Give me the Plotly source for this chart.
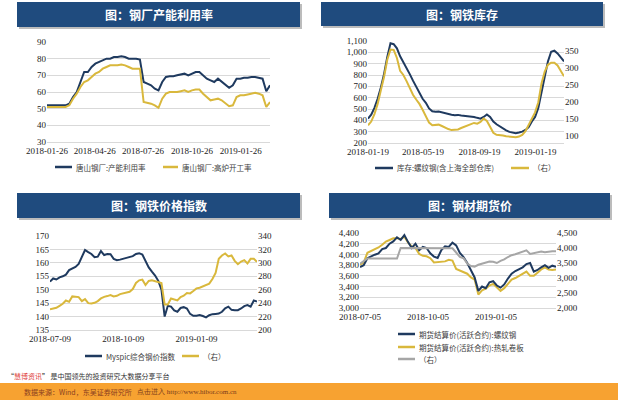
import pandas as pd
import plotly.graph_objects as go

W, H = 618, 400

# ---- panel 1: 钢厂产能利用率 (weekly) ----
p1_dates = pd.date_range("2018-01-26", periods=61, freq="7D")
p1_util = [52, 52, 52, 52, 52, 52, 53, 57, 60, 66, 72, 72, 75, 77, 78, 79, 80, 80, 81, 81,
           81.5, 81, 80, 80, 80, 79.5, 66, 65, 64, 62, 61, 66, 69, 69.5, 69.5, 70, 70.5, 71, 70, 71,
           72, 72, 70, 68, 67, 66, 68, 66, 64, 62.5, 64, 68, 68, 68.5, 68.5, 69, 69, 68.5, 68, 60.5, 64]
p1_blast = [51, 51, 51, 51, 51, 51, 52, 56, 59, 63, 66, 67, 69, 71, 72, 74, 75, 76, 76, 76,
            76.5, 76, 75, 74, 74, 74, 54, 53.5, 53, 52, 50.5, 56, 59, 60, 60, 60, 60.5, 61, 60, 61,
            61.5, 61.5, 59, 57, 55, 55.5, 56, 55, 53, 51.5, 52, 57, 58, 58, 58.5, 59, 59.5, 59, 58, 51, 54]
p1_ticks = ["2018-01-26", "2018-04-26", "2018-07-26", "2018-10-26", "2019-01-26"]

# ---- panel 2: 钢铁库存 (weekly) ----
p2_dates = pd.date_range("2018-01-19", periods=62, freq="7D")
p2_rebar = [415, 450, 510, 590, 690, 810, 960, 1080, 1072, 1035, 965, 915, 870, 808, 750, 695,
            645, 590, 555, 505, 480, 475, 478, 470, 462, 458, 450, 445, 448, 442, 440, 437, 432,
            430, 422, 415, 430, 452, 430, 390, 365, 345, 328, 312, 298, 290, 287, 292, 300, 315,
            340, 390, 430, 510, 650, 780, 920, 1005, 1015, 990, 950, 920]
p2_right = [132, 143, 165, 195, 235, 275, 325, 355, 354, 330, 292, 280, 262, 240, 222, 208,
            195, 178, 158, 140, 132, 133, 134, 130, 125, 121, 118, 118, 120, 124, 128, 133, 136,
            139, 137, 142, 152, 145, 128, 110, 104, 104, 102, 100, 99, 98, 97, 99, 104, 115,
            132, 150, 170, 200, 255, 290, 310, 316, 316, 308, 290, 276]
p2_ticks = ["2018-01-19", "2018-05-19", "2018-09-19", "2019-01-19"]

# ---- panel 3: 钢铁价格指数 ----
p3_dates = pd.date_range("2018-07-09", periods=66, freq="4D")
p3_myspic = [153, 154.2, 153.8, 154.6, 155, 155.6, 157.3, 157.8, 158.5, 159.6,
             162.5, 164.8, 164, 163.3, 162.1, 162.3, 164.4, 162.9, 163.3, 163.2,
             161.5, 161, 161.2, 161.5, 162, 162.3, 162.5, 163.3, 163.6, 163.1,
             160.5, 158.3, 156.7, 155.3, 153.3, 150, 140, 144, 143.7, 142.3,
             141.8, 143.2, 143.5, 143, 141, 140.3, 140.3, 140.6, 140.2, 139.7,
             140.5, 140.9, 141, 141.1, 141.8, 143.1, 143.7, 142.5, 142.4, 142.4,
             143, 143.9, 144.3, 143.7, 146, 145.6]
p3_right = [231, 232, 233, 236, 239, 244, 242, 250, 250, 249,
            243, 246, 240, 239.5, 240.5, 243, 247, 249.4, 250.5, 252,
            250, 251, 253.5, 254.5, 256, 257, 261, 270, 274, 275,
            267, 273, 274, 272.5, 271.5, 270, 238, 238, 247, 246,
            244, 249, 251, 255, 254.5, 258, 262, 263, 265, 268,
            269, 276, 285, 306, 311, 314, 309.5, 311, 303, 298,
            302, 304, 299, 306, 306, 301.5]
p3_ticks = ["2018-07-09", "2018-10-09", "2019-01-09"]

# ---- panel 4: 钢材期货价 ----
p4_dates = pd.date_range("2018-07-05", periods=54, freq="5D")
p4_rebar = [3765, 3800, 3930, 3970, 3995, 4020, 4100, 4120, 4200, 4244,
            4320, 4270, 4360, 4230, 4120, 4200, 4080, 4140, 4120, 4020,
            3960, 3935, 4080, 4150, 4140, 4220, 4170, 4030, 3950, 3840,
            3700, 3570, 3320, 3400, 3370, 3480, 3500, 3420, 3380, 3440,
            3550, 3640, 3690, 3720, 3760, 3820, 3840, 3680, 3710, 3760,
            3800, 3750, 3790, 3770]
p4_hrc = [3809, 3850, 4030, 4060, 4085, 4130, 4180, 4240, 4270, 4300,
          4300, 4290, 4330, 4220, 4150, 4120, 4010, 3975, 3965, 3930,
          3850, 3860, 3870, 3870, 3900, 3885, 3730, 3700, 3670, 3640,
          3570, 3530, 3250, 3330, 3360, 3420, 3450, 3380, 3320, 3370,
          3460, 3530, 3560, 3600, 3640, 3680, 3600, 3600, 3660, 3720,
          3760, 3720, 3710, 3720]
p4_right = [3480, 3560, 3650, 3650, 3650, 3650, 3650, 3650, 3650, 3650,
            3650, 4000, 4000, 4000, 4000, 4000, 4000, 4000, 4000, 4000,
            4000, 4000, 4000, 4000, 4000, 3990, 3850, 3700, 3660, 3480,
            3400, 3380, 3440, 3480, 3520, 3550, 3540, 3500, 3570, 3620,
            3700, 3760, 3790, 3830, 3870, 3920, 3800, 3820, 3850, 3880,
            3860, 3880, 3890, 3890]
p4_ticks = ["2018-07-05", "2018-10-05", "2019-01-05"]

NAVY = "#1f3a5f"
GOLD = "#d9b83c"
GREY = "#a6a6a6"
BAR = "#1f4b7e"


def px(x):
    return x / W


def py(y):
    return 1 - y / H


tickfont = dict(family="Liberation Serif", size=9, color="#222222")
cjk = "Noto Sans CJK SC"

fig = go.Figure()

fig.add_trace(go.Scatter(x=p1_dates, y=p1_util, xaxis="x", yaxis="y", mode="lines",
                         line=dict(color=NAVY, width=2)))
fig.add_trace(go.Scatter(x=p1_dates, y=p1_blast, xaxis="x", yaxis="y", mode="lines",
                         line=dict(color=GOLD, width=2)))

fig.add_trace(go.Scatter(x=p2_dates, y=p2_right, xaxis="x2", yaxis="y3", mode="lines",
                         line=dict(color=GOLD, width=2)))
fig.add_trace(go.Scatter(x=p2_dates, y=p2_rebar, xaxis="x2", yaxis="y2", mode="lines",
                         line=dict(color=NAVY, width=2)))

fig.add_trace(go.Scatter(x=p3_dates, y=p3_right, xaxis="x3", yaxis="y5", mode="lines",
                         line=dict(color=GOLD, width=2)))
fig.add_trace(go.Scatter(x=p3_dates, y=p3_myspic, xaxis="x3", yaxis="y4", mode="lines",
                         line=dict(color=NAVY, width=2)))

fig.add_trace(go.Scatter(x=p4_dates, y=p4_right, xaxis="x4", yaxis="y7", mode="lines",
                         line=dict(color=GREY, width=2)))
fig.add_trace(go.Scatter(x=p4_dates, y=p4_hrc, xaxis="x4", yaxis="y6", mode="lines",
                         line=dict(color=GOLD, width=2)))
fig.add_trace(go.Scatter(x=p4_dates, y=p4_rebar, xaxis="x4", yaxis="y6", mode="lines",
                         line=dict(color=NAVY, width=2)))


def xax(x0, x1, anchor, dates, ticks):
    return dict(domain=[px(x0), px(x1)], anchor=anchor, type="date",
                range=[dates[0], dates[-1]], tickvals=ticks, ticktext=ticks,
                tickfont=tickfont, showgrid=False, zeroline=False, automargin=False,
                showline=True, linecolor="#d9d9d9", ticks="")


def yax(y0, y1, anchor, rng, dtick, fmt=""):
    return dict(domain=[py(y1), py(y0)], anchor=anchor, range=rng, dtick=dtick,
                tickformat=fmt, tickfont=tickfont, showgrid=True, gridcolor="#d9d9d9",
                gridwidth=1, zeroline=False, ticks="", automargin=False)


def yright(over, anchor, rng, dtick, fmt=""):
    return dict(overlaying=over, side="right", anchor=anchor, range=rng, dtick=dtick,
                tickformat=fmt, tickfont=tickfont, showgrid=False, zeroline=False, ticks="",
                automargin=False)


layout = dict(
    width=W, height=H, autosize=False, margin=dict(l=0, r=0, t=0, b=0, pad=0),
    paper_bgcolor="white", plot_bgcolor="rgba(0,0,0,0)", showlegend=False,
    xaxis=xax(47, 270, "y", p1_dates, p1_ticks),
    yaxis=yax(42, 142, "x", [30, 90], 10),
    xaxis2=xax(368, 564, "y2", p2_dates, p2_ticks),
    yaxis2=yax(41, 143, "x2", [200, 1100], 100, ",d"),
    yaxis3=yright("y2", "x2", [80, 380], 50),
    xaxis3=xax(50, 257, "y4", p3_dates, p3_ticks),
    yaxis4=yax(236, 330, "x3", [135, 170], 5),
    yaxis5=yright("y4", "x3", [200, 340], 20),
    xaxis4=xax(360, 556, "y6", p4_dates, p4_ticks),
    yaxis6=yax(233, 308, "x4", [3000, 4400], 200, ",d"),
    yaxis7=yright("y6", "x4", [2000, 4500], 500, ",d"),
)
fig.update_layout(**layout)

shapes = []
annotations = []


def note(x, y, text, font, xanchor="left"):
    annotations.append(dict(x=px(x), y=py(y), xref="paper", yref="paper", text=text,
                            showarrow=False, xanchor=xanchor, yanchor="middle", font=font))


# title bars
titles = [((17, 2, 300, 27), "图：钢厂产能利用率"),
          ((321, 2, 603, 26), "图：钢铁库存"),
          ((17, 193, 300, 218), "图：钢铁价格指数"),
          ((329, 193, 610, 218), "图：钢材期货价")]
for (x0, y0, x1, y1), t in titles:
    shapes.append(dict(type="rect", xref="paper", yref="paper", x0=px(x0 + 2), x1=px(x1 + 2),
                       y0=py(y1 + 2), y1=py(y0 + 2), fillcolor="#bcbcbc", line_width=0))
    shapes.append(dict(type="rect", xref="paper", yref="paper", x0=px(x0), x1=px(x1),
                       y0=py(y1), y1=py(y0), fillcolor=BAR, line_width=0))
    note((x0 + x1) / 2, (y0 + y1) / 2, "<b>" + t + "</b>",
         dict(family=cjk, size=12, color="white"), xanchor="center")

# hand-placed legends
legend_items = [
    (55, 72, 167, NAVY, "唐山钢厂:产能利用率"),
    (163, 178, 167, GOLD, "唐山钢厂:高炉开工率"),
    (375, 393, 168, NAVY, "库存:螺纹钢(含上海全部仓库)"),
    (511, 529, 168, GOLD, "（右）"),
    (85, 102, 356, NAVY, "Myspic综合钢价指数"),
    (182, 199, 356, GOLD, "（右）"),
    (398, 415, 334, NAVY, "期货结算价(活跃合约):螺纹钢"),
    (398, 415, 347, GOLD, "期货结算价(活跃合约):热轧卷板"),
    (398, 415, 359, GREY, "（右）"),
]
for x0, x1, y, c, t in legend_items:
    shapes.append(dict(type="line", xref="paper", yref="paper", x0=px(x0), x1=px(x1),
                       y0=py(y), y1=py(y), line=dict(color=c, width=2.5)))
    note(x1 + 2, y, t, dict(family=cjk, size=7.5, color="#404040"))

# footer
shapes.append(dict(type="rect", xref="paper", yref="paper", x0=0, x1=1, y0=0, y1=py(383),
                   fillcolor="#f7a231", line_width=0, layer="below"))
note(5, 376, "“<span style='color:#e0403a'>慧博资讯</span>” 是中国领先的投资研究大数据分享平台",
     dict(family=cjk, size=7, color="#333333"))
note(22, 391.5, "数据来源：Wind，东吴证券研究所", dict(family=cjk, size=7, color="#8a4020"))
note(135, 391.5, "点击进入 http://www.hibor.com.cn",
     dict(family="Liberation Serif", size=7, color="#7a3a1a"))

fig.update_layout(shapes=shapes, annotations=annotations)

fig.write_html("out.html", config={"displayModeBar": False},
               post_script="document.body.style.margin='0px';")
